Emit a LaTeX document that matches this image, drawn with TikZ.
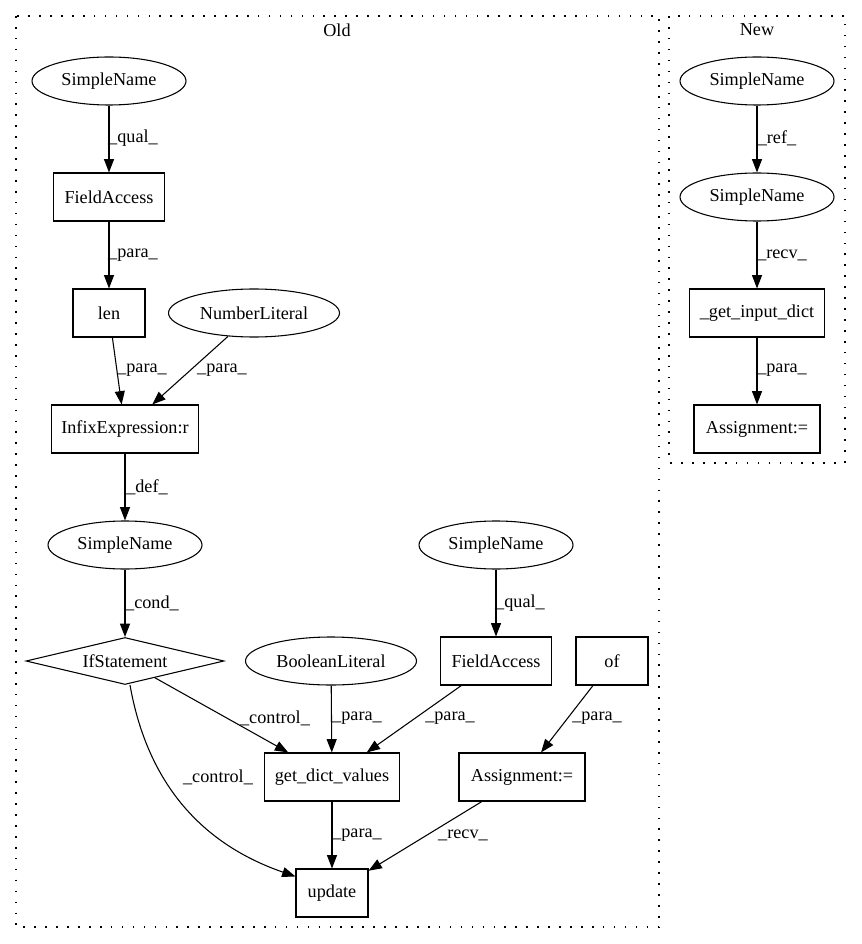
\documentclass[tikz,border=0pt]{standalone}
\usepackage{fontspec}
\setmainfont{Liberation Serif}
\usetikzlibrary{shapes.geometric,arrows.meta,calc}
\begin{document}
\begin{tikzpicture}[x=0.75pt,y=-0.75pt,
  every node/.style={font=\fontsize{13.65}{16}\selectfont, inner sep=0pt},
  box/.style={draw, rectangle, line width=0.8pt, minimum height=36pt},
  oval/.style={draw, ellipse, line width=0.8pt, minimum height=36pt, minimum width=115.5pt},
  cond/.style={draw, diamond, aspect=4.2, line width=0.8pt, minimum width=148.5pt, minimum height=35.25pt},
  edge/.style={draw, line width=0.8pt, -{Triangle[length=10pt,width=7.5pt]}},
  cluster/.style={draw, line width=0.8pt, dash pattern=on 1.2pt off 7pt}
]
\useasboundingbox (0,0) rectangle (861,944);

% clusters
\draw[cluster] (16,16) rectangle (659,927);
\draw[cluster] (669,16) rectangle (845,463);
\node (told) at (337,30) {Old};
\node (tnew) at (757,30) {New};

% Old nodes
\node[oval] (sn1) at (109,81) {SimpleName};
\node[box, minimum width=83.25pt] (fa1) at (109,197) {FieldAccess};
\node[box, minimum width=54pt] (len) at (109,313) {len};
\node[oval, minimum width=128.25pt] (num) at (254,313) {NumberLiteral};
\node[box, minimum width=110.25pt] (inf) at (125,429) {InfixExpression:r};
\node[oval] (sn2) at (125,545) {SimpleName};
\node[cond] (if) at (125,661) {IfStatement};
\node[oval] (sn3) at (496,545) {SimpleName};
\node[oval, minimum width=128.25pt] (bool) at (331,661) {BooleanLiteral};
\node[box, minimum width=83.25pt] (fa2) at (496,661) {FieldAccess};
\node[box, minimum width=54pt] (of) at (612,661) {of};
\node[box, minimum width=101.25pt] (gdv) at (332,777) {get\_dict\_values};
\node[box, minimum width=94.5pt] (asg1) at (522,777) {Assignment:=};
\node[box, minimum width=54pt] (upd) at (332,893) {update};

% New nodes
\node[oval] (nsn1) at (757,81) {SimpleName};
\node[oval] (nsn2) at (757,197) {SimpleName};
\node[box, minimum width=101.25pt] (gid) at (757,313) {\_get\_input\_dict};
\node[box, minimum width=94.5pt] (nasg) at (757,429) {Assignment:=};

% Old edges
\draw[edge] (sn1) -- (fa1);
\node (l1) at (133,138) {\_qual\_};
\draw[edge] (fa1) -- (len);
\node (l2) at (133,255) {\_para\_};
\draw[edge] (len) -- (inf);
\node (l3) at (142,370) {\_para\_};
\draw[edge] (num) -- (inf);
\node (l4) at (222,370) {\_para\_};
\draw[edge] (inf) -- (sn2);
\node (l5) at (147,487) {\_def\_};
\draw[edge] (sn2) -- (if);
\node (l6) at (152,603) {\_cond\_};
\draw[edge] (if) -- (gdv);
\node (l7) at (275,718) {\_control\_};
\draw[edge] ($(if.south)+(5,0)$) .. controls (145,770) and (190,840) .. ($(upd.north west)+(0,8)$);
\node (l8) at (218,777) {\_control\_};
\draw[edge] (bool) -- (gdv);
\node (l9) at (357,718) {\_para\_};
\draw[edge] (sn3) -- (fa2);
\node (l10) at (520,603) {\_qual\_};
\draw[edge] (fa2) -- (gdv);
\node (l11) at (450,718) {\_para\_};
\draw[edge] (of) -- (asg1);
\node (l12) at (597,718) {\_para\_};
\draw[edge] (gdv) -- (upd);
\node (l13) at (357,835) {\_para\_};
\draw[edge] (asg1) -- (upd);
\node (l14) at (463,835) {\_recv\_};

% New edges
\draw[edge] (nsn1) -- (nsn2);
\node (l15) at (777,138) {\_ref\_};
\draw[edge] (nsn2) -- (gid);
\node (l16) at (782,255) {\_recv\_};
\draw[edge] (gid) -- (nasg);
\node (l17) at (782,370) {\_para\_};
\end{tikzpicture}
\end{document}
